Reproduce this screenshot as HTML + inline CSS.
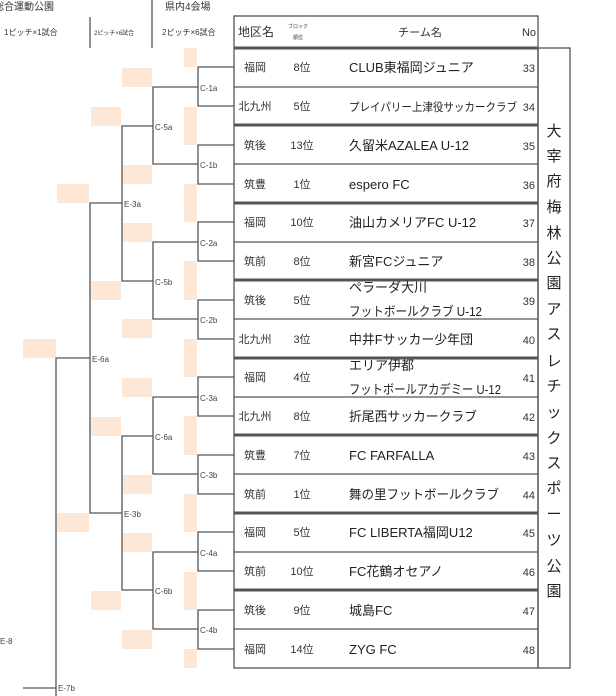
<!DOCTYPE html>
<html><head><meta charset="utf-8"><style>
html,body{margin:0;padding:0;background:#fff;}
svg{display:block;font-family:"Liberation Sans","Noto Sans CJK JP",sans-serif;}
</style></head><body>
<svg width="616" height="696" viewBox="0 0 616 696" xmlns="http://www.w3.org/2000/svg">
<g fill="#fde8d8">
<rect x="184" y="48" width="13" height="19"/>
<rect x="184" y="107" width="13" height="38"/>
<rect x="184" y="184" width="13" height="38"/>
<rect x="184" y="261" width="13" height="39"/>
<rect x="184" y="339" width="13" height="38"/>
<rect x="184" y="416" width="13" height="39"/>
<rect x="184" y="494" width="13" height="38"/>
<rect x="184" y="572" width="13" height="38"/>
<rect x="184" y="649" width="13" height="19"/>
<rect x="122" y="68" width="30" height="19"/>
<rect x="122" y="165" width="30" height="19"/>
<rect x="122" y="223" width="30" height="19"/>
<rect x="122" y="319" width="30" height="19"/>
<rect x="122" y="378" width="30" height="19"/>
<rect x="122" y="475" width="30" height="19"/>
<rect x="122" y="533" width="30" height="19"/>
<rect x="122" y="630" width="30" height="19"/>
<rect x="91" y="107" width="30" height="19"/>
<rect x="91" y="281" width="30" height="19"/>
<rect x="91" y="417" width="30" height="19"/>
<rect x="91" y="591" width="30" height="19"/>
<rect x="57" y="184" width="32" height="19"/>
<rect x="57" y="513" width="32" height="19"/>
<rect x="23" y="339" width="33" height="19"/>
</g>
<g stroke="#555" stroke-width="1.3" fill="none">
<path d="M234 67H198V106H234M234 145H198V184H234M234 222H198V261H234M234 300H198V339H234M234 377H198V416H234M234 455H198V494H234M234 532H198V571H234M234 610H198V649H234"/>
<path d="M198 87H153V164H198M198 242H153V319H198M198 397H153V474H198M198 552H153V629H198"/>
<path d="M153 126H122V281H153M153 436H122V590H153"/>
<path d="M122 203H90V513H122"/>
<path d="M90 358H56V696M23 688H56"/>
<path d="M90 17V48M152 0V48"/>
</g>
<g font-size="8" fill="#444">
<text x="200" y="91">C-1a</text><text x="200" y="168">C-1b</text>
<text x="200" y="246">C-2a</text><text x="200" y="323">C-2b</text>
<text x="200" y="401">C-3a</text><text x="200" y="478">C-3b</text>
<text x="200" y="556">C-4a</text><text x="200" y="633">C-4b</text>
<text x="155" y="130">C-5a</text><text x="155" y="285">C-5b</text>
<text x="155" y="440">C-6a</text><text x="155" y="594">C-6b</text>
<text x="124" y="207">E-3a</text><text x="124" y="517">E-3b</text>
<text x="92" y="362">E-6a</text>
<text x="58" y="691">E-7b</text>
<text x="0" y="644">E-8</text>
</g>
<g fill="#333">
<text x="-6" y="10" font-size="10">総合運動公園</text>
<text x="-4" y="35" font-size="8">、1ピッチ×1試合</text>
<text x="94" y="35" font-size="6">2ピッチ×6試合</text>
<text x="162" y="35" font-size="8">2ピッチ×6試合</text>
<text x="165" y="10" font-size="10">県内4会場</text>
</g>
<g stroke="#555" fill="none">
<rect x="234" y="16" width="304" height="652" stroke-width="1.3"/>
<rect x="538" y="48" width="32" height="620" stroke-width="1.3"/>
<path stroke-width="3" d="M234 48H538M234 125H538M234 203H538M234 280H538M234 358H538M234 435H538M234 513H538M234 590H538"/>
<path stroke-width="1.3" d="M234 87H538M234 164H538M234 242H538M234 319H538M234 397H538M234 474H538M234 552H538M234 629H538"/>
</g>
<g fill="#333" font-size="11">
<text x="238" y="36" font-size="12">地区名</text>
<text x="298" y="28" font-size="5" text-anchor="middle">ブロック</text>
<text x="298" y="39" font-size="5" text-anchor="middle">順位</text>
<text x="420" y="36" text-anchor="middle">チーム名</text>
<text x="536" y="36" text-anchor="end">No</text>
</g>
<g fill="#333" font-size="11">
<g text-anchor="middle">
<text x="255" y="71">福岡</text><text x="255" y="110">北九州</text><text x="255" y="149">筑後</text><text x="255" y="188">筑豊</text>
<text x="255" y="226">福岡</text><text x="255" y="265">筑前</text><text x="255" y="304">筑後</text><text x="255" y="343">北九州</text>
<text x="255" y="381">福岡</text><text x="255" y="420">北九州</text><text x="255" y="459">筑豊</text><text x="255" y="498">筑前</text>
<text x="255" y="536">福岡</text><text x="255" y="575">筑前</text><text x="255" y="614">筑後</text><text x="255" y="653">福岡</text>
<text x="302" y="71">8位</text><text x="302" y="110">5位</text><text x="302" y="149">13位</text><text x="302" y="188">1位</text>
<text x="302" y="226">10位</text><text x="302" y="265">8位</text><text x="302" y="304">5位</text><text x="302" y="343">3位</text>
<text x="302" y="381">4位</text><text x="302" y="420">8位</text><text x="302" y="459">7位</text><text x="302" y="498">1位</text>
<text x="302" y="536">5位</text><text x="302" y="575">10位</text><text x="302" y="614">9位</text><text x="302" y="653">14位</text>
</g>
<g text-anchor="end">
<text x="535" y="72">33</text><text x="535" y="111">34</text><text x="535" y="150">35</text><text x="535" y="189">36</text>
<text x="535" y="227">37</text><text x="535" y="266">38</text><text x="535" y="305">39</text><text x="535" y="344">40</text>
<text x="535" y="382">41</text><text x="535" y="421">42</text><text x="535" y="460">43</text><text x="535" y="499">44</text>
<text x="535" y="537">45</text><text x="535" y="576">46</text><text x="535" y="615">47</text><text x="535" y="654">48</text>
</g>
</g>
<g fill="#222" font-size="13">
<text x="349" y="72">CLUB東福岡ジュニア</text>
<text x="349" y="111" font-size="11.5" textLength="168" lengthAdjust="spacingAndGlyphs">プレイパリー上津役サッカークラブ</text>
<text x="349" y="150">久留米AZALEA U-12</text>
<text x="349" y="189">espero FC</text>
<text x="349" y="227">油山カメリアFC U-12</text>
<text x="349" y="266">新宮FCジュニア</text>
<text x="349" y="292">ペラーダ大川</text>
<text x="349" y="316" textLength="133" lengthAdjust="spacingAndGlyphs">フットボールクラブ U-12</text>
<text x="349" y="344" textLength="124" lengthAdjust="spacingAndGlyphs">中井Fサッカー少年団</text>
<text x="349" y="370">エリア伊都</text>
<text x="349" y="394" textLength="152" lengthAdjust="spacingAndGlyphs">フットボールアカデミー U-12</text>
<text x="349" y="421" textLength="128" lengthAdjust="spacingAndGlyphs">折尾西サッカークラブ</text>
<text x="349" y="460">FC FARFALLA</text>
<text x="349" y="499" textLength="150" lengthAdjust="spacingAndGlyphs">舞の里フットボールクラブ</text>
<text x="349" y="537">FC LIBERTA福岡U12</text>
<text x="349" y="576">FC花鶴オセアノ</text>
<text x="349" y="615">城島FC</text>
<text x="349" y="654">ZYG FC</text>
</g>
<g fill="#222" font-size="15" text-anchor="middle">
<text x="554" y="136">大</text><text x="554" y="161">宰</text><text x="554" y="186">府</text><text x="554" y="212">梅</text>
<text x="554" y="238">林</text><text x="554" y="263">公</text><text x="554" y="288">園</text><text x="554" y="314">ア</text>
<text x="554" y="339">ス</text><text x="554" y="366">レ</text><text x="554" y="391">チ</text><text x="554" y="417">ッ</text>
<text x="554" y="443">ク</text><text x="554" y="468">ス</text><text x="554" y="493">ポ</text><text x="554" y="519">ー</text>
<text x="554" y="545">ツ</text><text x="554" y="571">公</text><text x="554" y="596">園</text>
</g>
</svg>
</body></html>
